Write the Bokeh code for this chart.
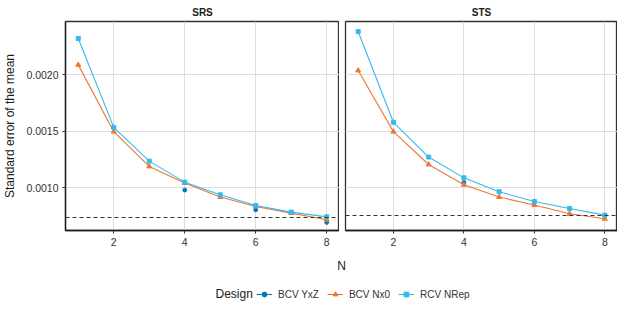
from bokeh.plotting import figure
from bokeh.layouts import row, column
from bokeh.models import (FixedTicker, NumeralTickFormatter, Range1d, Span, Legend, LegendItem,
                          ColumnDataSource, Label)
from bokeh.embed import file_html
from bokeh.resources import INLINE
import numpy as np

N = [1, 2, 3, 4, 5, 6, 7, 8]
designs = ["BCV YxZ", "BCV Nx0", "RCV NRep"]
colors = ["#0077BB", "#EE7733", "#33BBEE"]
x_ticks = [2, 4, 6, 8]
y_ticks = [0.0010, 0.0015, 0.0020]

srs_yxz = [np.nan, np.nan, np.nan, 0.000980, np.nan, 0.000805, np.nan, 0.000693]
srs_nx0 = [0.002088, 0.001497, 0.001189, 0.001042, 0.000918, 0.000835, 0.000776, 0.000717]
srs_nrep = [0.002321, 0.001535, 0.001236, 0.001050, 0.000938, 0.000843, 0.000785, 0.000743]
srs_ref = 0.000737

sts_yxz = [np.nan, np.nan, np.nan, 0.001047, np.nan, np.nan, np.nan, 0.000755]
sts_nx0 = [0.002038, 0.001497, 0.001206, 0.001027, 0.000918, 0.000847, 0.000770, 0.000726]
sts_nrep = [0.002383, 0.001580, 0.001272, 0.001088, 0.000965, 0.000879, 0.000817, 0.000758]
sts_ref = 0.000755

FONT = "Liberation Sans"
TXT = "#333333"
y_range = Range1d(0.000622, 0.002472)


def panel(title, yxz, nx0, nrep, ref, first):
    p = figure(frame_width=274 if first else 272, frame_height=209,
               output_backend="svg", toolbar_location=None,
               x_range=Range1d(0.64, 8.36), y_range=y_range,
               min_border_left=57 if first else 6, min_border_right=0,
               min_border_top=0, min_border_bottom=0, title=title)
    p.title.align = "center"
    p.title.text_font = FONT
    p.title.text_font_style = "bold"
    p.title.text_font_size = "10px"
    p.title.text_color = "#1a1a1a"
    p.title.standoff = 8
    p.outline_line_color = "#333333"
    p.outline_line_width = 1.3
    p.background_fill_color = "white"
    p.border_fill_color = "white"
    p.xgrid.grid_line_color = "#DEDEDE"
    p.ygrid.grid_line_color = "#DEDEDE"
    p.xgrid.grid_line_width = 1.0
    p.ygrid.grid_line_width = 1.0
    p.xaxis.ticker = FixedTicker(ticks=x_ticks)
    p.yaxis.ticker = FixedTicker(ticks=y_ticks)
    p.yaxis.formatter = NumeralTickFormatter(format="0.0000")
    for ax in [p.xaxis[0], p.yaxis[0]]:
        ax.major_label_text_font = FONT
        ax.major_label_text_font_size = "10.5px"
        ax.major_label_text_color = TXT
        ax.major_label_standoff = 4
        ax.axis_line_color = "#1a1a1a"
        ax.axis_line_width = 1.3
        ax.major_tick_line_color = "#333333"
        ax.major_tick_out = 3
        ax.major_tick_in = 0
        ax.minor_tick_line_color = None
        ax.axis_label_text_font = FONT
        ax.axis_label_text_font_style = "normal"
        ax.axis_label_text_font_size = "12px"
        ax.axis_label_text_color = "#1a1a1a"
    if first:
        p.yaxis.axis_label = "Standard error of the mean"
        p.yaxis.axis_label_standoff = 6
    else:
        p.yaxis.visible = False
    p.add_layout(Span(location=ref, dimension="width", line_color="#333333",
                      line_dash="4 3", line_width=1.1))
    src = ColumnDataSource(dict(N=N, yxz=yxz, nx0=nx0, nrep=nrep))
    p.line("N", "yxz", source=src, color=colors[0], line_width=1.1)
    p.scatter("N", "yxz", source=src, color=colors[0], size=3.8, marker="circle")
    p.line("N", "nx0", source=src, color=colors[1], line_width=1.1)
    p.scatter("N", "nx0", source=src, color=colors[1], size=5, marker="triangle")
    p.line("N", "nrep", source=src, color=colors[2], line_width=1.1)
    p.scatter("N", "nrep", source=src, color=colors[2], size=4, marker="square")
    return p


p1 = panel("SRS", srs_yxz, srs_nx0, srs_nrep, srs_ref, True)
p2 = panel("STS", sts_yxz, sts_nx0, sts_nrep, sts_ref, False)

# bottom strip: axis title "N" and legend; ranges in page pixels
TOP, BOT = 249, 304
pl = figure(frame_width=552, frame_height=BOT - TOP, output_backend="svg", toolbar_location=None,
            min_border_left=65, min_border_right=0, min_border_top=0, min_border_bottom=0,
            x_range=Range1d(65, 617), y_range=Range1d(BOT, TOP))
pl.outline_line_color = None
pl.axis.visible = False
pl.grid.visible = False
pl.add_layout(Label(x=341, y=266, text="N", text_font=FONT, text_font_size="12px",
                    text_color="#1a1a1a", text_align="center", text_baseline="middle"))
pl.add_layout(Label(x=215, y=294, text="Design", text_font=FONT, text_font_size="12px",
                    text_color="#1a1a1a", text_align="left", text_baseline="middle"))
items = []
markers = ["circle", "triangle", "square"]
for d, c, m in zip(designs, colors, markers):
    r1 = pl.line([np.nan], [np.nan], color=c, line_width=1.1)
    r2 = pl.scatter([np.nan], [np.nan], color=c, size=4, marker=m)
    items.append(LegendItem(label=d, renderers=[r1, r2]))
leg = Legend(items=items, orientation="horizontal", location=(191, 3),
             label_text_font=FONT, label_text_font_size="10px", label_text_color=TXT,
             border_line_color=None, background_fill_alpha=0,
             glyph_width=16, glyph_height=12, label_standoff=6, spacing=8,
             padding=0, margin=0, label_height=12)
pl.add_layout(leg, "center")

layout = column(row(p1, p2), pl)
open("out.html", "w").write(file_html(layout, INLINE))
